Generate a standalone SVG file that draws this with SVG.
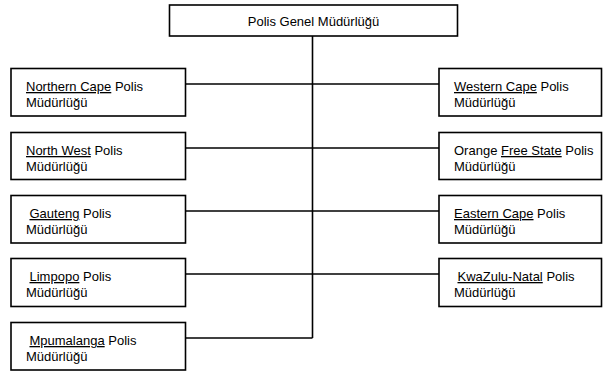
<svg xmlns="http://www.w3.org/2000/svg" width="603" height="374" viewBox="0 0 603 374">
<style>
.box{fill:#fff;stroke:#000;stroke-width:1.6}
.t{font-family:"Liberation Sans",Arial,sans-serif;font-size:13px;fill:#000}
.u{text-decoration:underline}
.c{stroke:#000;stroke-width:1.6;fill:none}
</style>
<g id="connectors">
<line class="c" x1="312.5" y1="36" x2="312.5" y2="338"/>
<line class="c" x1="185.5" y1="84" x2="439" y2="84"/>
<line class="c" x1="185.5" y1="148" x2="439" y2="148"/>
<line class="c" x1="185.5" y1="211" x2="439" y2="211"/>
<line class="c" x1="185.5" y1="274" x2="439" y2="274"/>
<line class="c" x1="185.5" y1="338" x2="312.5" y2="338"/>
</g>
<g id="root">
<rect class="box" x="169.5" y="5" width="288" height="31"/>
<text class="t" x="313.5" y="26" text-anchor="middle">Polis Genel Müdürlüğü</text>
</g>
<g id="northern-cape">
<rect class="box" x="11" y="68.5" width="174.5" height="47.5"/>
<text class="t" x="26" y="91"><tspan class="u">Northern Cape</tspan> Polis</text>
<text class="t" x="26" y="107">Müdürlüğü</text>
</g>
<g id="north-west">
<rect class="box" x="11" y="132.5" width="174.5" height="47"/>
<text class="t" x="26" y="155"><tspan class="u">North West</tspan> Polis</text>
<text class="t" x="26" y="171">Müdürlüğü</text>
</g>
<g id="gauteng">
<rect class="box" x="11" y="195.5" width="174.5" height="47.5"/>
<text class="t" x="29.5" y="218"><tspan class="u">Gauteng</tspan> Polis</text>
<text class="t" x="26" y="234">Müdürlüğü</text>
</g>
<g id="limpopo">
<rect class="box" x="11" y="258.5" width="174.5" height="48"/>
<text class="t" x="29.5" y="281"><tspan class="u">Limpopo</tspan> Polis</text>
<text class="t" x="26" y="297">Müdürlüğü</text>
</g>
<g id="mpumalanga">
<rect class="box" x="11" y="322.5" width="174.5" height="47.5"/>
<text class="t" x="29.5" y="345"><tspan class="u">Mpumalanga</tspan> Polis</text>
<text class="t" x="26" y="361">Müdürlüğü</text>
</g>
<g id="western-cape">
<rect class="box" x="439" y="68.5" width="162.5" height="47.5"/>
<text class="t" x="454" y="91"><tspan class="u">Western Cape</tspan> Polis</text>
<text class="t" x="454" y="107">Müdürlüğü</text>
</g>
<g id="orange-free-state">
<rect class="box" x="439" y="132.5" width="162.5" height="47"/>
<text class="t" x="454" y="155">Orange <tspan class="u">Free State</tspan> Polis</text>
<text class="t" x="454" y="171">Müdürlüğü</text>
</g>
<g id="eastern-cape">
<rect class="box" x="439" y="195.5" width="162.5" height="47.5"/>
<text class="t" x="454" y="218"><tspan class="u">Eastern Cape</tspan> Polis</text>
<text class="t" x="454" y="234">Müdürlüğü</text>
</g>
<g id="kwazulu-natal">
<rect class="box" x="439" y="258.5" width="162.5" height="48"/>
<text class="t" x="457.5" y="281"><tspan class="u">KwaZulu-Natal</tspan> Polis</text>
<text class="t" x="454" y="297">Müdürlüğü</text>
</g>
</svg>
